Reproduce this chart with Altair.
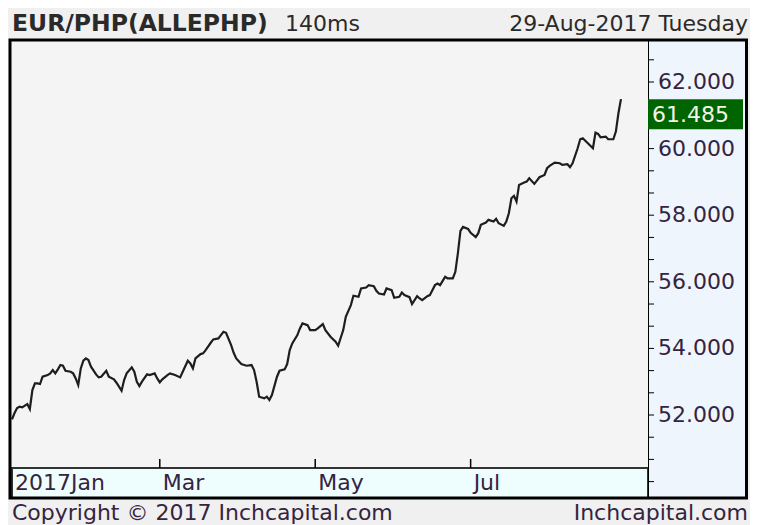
import altair as alt
import pandas as pd

# ---- data ----
dates = [
    "2017-01-02", "2017-01-03", "2017-01-04", "2017-01-05", "2017-01-06", "2017-01-08", "2017-01-09",
    "2017-01-10", "2017-01-11", "2017-01-12", "2017-01-13", "2017-01-14", "2017-01-16", "2017-01-17",
    "2017-01-18", "2017-01-19", "2017-01-20", "2017-01-21", "2017-01-22", "2017-01-23", "2017-01-25",
    "2017-01-26", "2017-01-27", "2017-01-28", "2017-01-29", "2017-01-30", "2017-01-31",
    "2017-02-01", "2017-02-02", "2017-02-04", "2017-02-05", "2017-02-06", "2017-02-08", "2017-02-09",
    "2017-02-11", "2017-02-12", "2017-02-14", "2017-02-15", "2017-02-16", "2017-02-18", "2017-02-19",
    "2017-02-20", "2017-02-21", "2017-02-22", "2017-02-24", "2017-02-25", "2017-02-27", "2017-02-28",
    "2017-03-01", "2017-03-02", "2017-03-04", "2017-03-05", "2017-03-07", "2017-03-09", "2017-03-10",
    "2017-03-12", "2017-03-13", "2017-03-14", "2017-03-15", "2017-03-17", "2017-03-18", "2017-03-19",
    "2017-03-21", "2017-03-22", "2017-03-24", "2017-03-25", "2017-03-26", "2017-03-27", "2017-03-29",
    "2017-03-30", "2017-03-31",
    "2017-04-02", "2017-04-04", "2017-04-06", "2017-04-07", "2017-04-08", "2017-04-09", "2017-04-11",
    "2017-04-12", "2017-04-13", "2017-04-14", "2017-04-16", "2017-04-17", "2017-04-19", "2017-04-20",
    "2017-04-21", "2017-04-22", "2017-04-24", "2017-04-25", "2017-04-26", "2017-04-28", "2017-04-29",
    "2017-05-01", "2017-05-02", "2017-05-04", "2017-05-05", "2017-05-07", "2017-05-09", "2017-05-10",
    "2017-05-12", "2017-05-13", "2017-05-15", "2017-05-16", "2017-05-18", "2017-05-19", "2017-05-21",
    "2017-05-22", "2017-05-24", "2017-05-25", "2017-05-26", "2017-05-28", "2017-05-29", "2017-05-31",
    "2017-06-01", "2017-06-03", "2017-06-04", "2017-06-05", "2017-06-07", "2017-06-08", "2017-06-10",
    "2017-06-11", "2017-06-12", "2017-06-14", "2017-06-15", "2017-06-17", "2017-06-18", "2017-06-19",
    "2017-06-21", "2017-06-22", "2017-06-24", "2017-06-25", "2017-06-26", "2017-06-27", "2017-06-28",
    "2017-06-30",
    "2017-07-01", "2017-07-03", "2017-07-04", "2017-07-05", "2017-07-07", "2017-07-08", "2017-07-10",
    "2017-07-11", "2017-07-12", "2017-07-14", "2017-07-15", "2017-07-16", "2017-07-17", "2017-07-18",
    "2017-07-19", "2017-07-20", "2017-07-22", "2017-07-23", "2017-07-24", "2017-07-26", "2017-07-27",
    "2017-07-28", "2017-07-30", "2017-07-31",
    "2017-08-01", "2017-08-03", "2017-08-05", "2017-08-06", "2017-08-08", "2017-08-09", "2017-08-10",
    "2017-08-12", "2017-08-13", "2017-08-14", "2017-08-16", "2017-08-18", "2017-08-19", "2017-08-20",
    "2017-08-21", "2017-08-23", "2017-08-24", "2017-08-26", "2017-08-27", "2017-08-28", "2017-08-29",
]
rates = [
    51.87, 52.06, 52.21, 52.25, 52.23, 52.33, 52.18,
    52.75, 52.95, 52.95, 52.93, 53.15, 53.20, 53.25,
    53.35, 53.25, 53.37, 53.50, 53.48, 53.33, 53.30,
    53.25, 53.10, 52.90, 53.40, 53.63, 53.70,
    53.65, 53.45, 53.22, 53.13, 53.15, 53.33, 53.15,
    53.07, 52.97, 52.73, 53.05, 53.25, 53.43, 53.30,
    53.00, 52.87, 53.00, 53.22, 53.20, 53.25, 53.10,
    52.98, 53.07, 53.20, 53.25, 53.20, 53.13, 53.30,
    53.63, 53.55, 53.40, 53.70, 53.83, 53.85, 53.95,
    54.17, 54.27, 54.30, 54.40, 54.50, 54.47, 54.10,
    53.87, 53.70,
    53.53, 53.48, 53.50, 53.35, 53.00, 52.55, 52.50,
    52.55, 52.45, 52.60, 53.15, 53.33, 53.37, 53.53,
    53.95, 54.15, 54.40, 54.60, 54.75, 54.70, 54.55,
    54.55, 54.60, 54.73, 54.55, 54.35, 54.20, 54.08,
    54.55, 54.95, 55.30, 55.58, 55.55, 55.80, 55.83,
    55.90, 55.87, 55.73, 55.65, 55.62, 55.80, 55.75,
    55.52, 55.55, 55.68, 55.60, 55.54, 55.33, 55.57,
    55.50, 55.45, 55.57, 55.60, 55.90, 55.95, 55.90,
    56.15, 56.10, 56.10, 56.30, 56.86, 57.53, 57.65,
    57.59,
    57.47, 57.34, 57.46, 57.71, 57.78, 57.86, 57.81,
    57.89, 57.76, 57.68, 57.81, 58.06, 58.51, 58.58,
    58.41, 58.91, 58.98, 59.01, 59.11, 58.94, 59.04,
    59.14, 59.21, 59.41,
    59.48, 59.58, 59.56, 59.51, 59.53, 59.44, 59.56,
    60.01, 60.28, 60.31, 60.16, 60.01, 60.48, 60.44,
    60.34, 60.36, 60.28, 60.28, 60.51, 61.06, 61.485,
]

tick_dates = ["2017-01-02", "2017-03-01", "2017-05-01", "2017-07-01"]
tick_labels = ["2017Jan", "Mar", "May", "Jul"]
y_ticks = [round(50 + k * 2 / 3, 3) for k in range(20)]
y_labels = [52, 54, 56, 58, 60, 62]

title_left = "EUR/PHP(ALLEPHP)"
title_mid = "140ms"
title_right = "29-Aug-2017 Tuesday"
foot_left = "Copyright \u00a9 2017 Inchcapital.com"
foot_right = "Inchcapital.com"

# ---- tables ----
df = pd.DataFrame({"date": dates, "rate": rates})
last = df.tail(1)
ticks_df = pd.DataFrame({"date": tick_dates, "label": tick_labels})
ytick_df = pd.DataFrame({"v": y_ticks})
ylab_df = pd.DataFrame({"v": y_labels})
one = pd.DataFrame({"k": [0]})

W, H = 636, 456
FONT = "DejaVu Sans"
TXT = "#2a2a2a"
LAB = "#35243f"
GREY = "#f0f0f0"

xscale = alt.Scale(
    type="utc",
    domain=[
        alt.DateTime(year=2017, month=1, date=2, utc=True),
        alt.DateTime(year=2017, month=9, date=8, hours=14, minutes=38, utc=True),
    ],
)
yscale = alt.Scale(domain=[49.538, 63.231], nice=False, zero=False)


def strip(x0, x1, y0, y1, color):
    return alt.Chart(one).mark_rect(color=color).encode(
        x=alt.value(x0), x2=alt.value(x1), y=alt.value(y0), y2=alt.value(y1)
    )


def label(text, x, y, align, size, weight="normal", color=TXT):
    return alt.Chart(one).mark_text(
        align=align, baseline="alphabetic", font=FONT, fontSize=size,
        fontWeight=weight, color=color,
    ).encode(x=alt.value(x), y=alt.value(y), text=alt.value(text))


header = strip(-4, 738, -33, -1, GREY)
footer = strip(-4, 738, 457, 490, GREY)
left_strip = strip(-4, -2, -33, 490, GREY)
right_strip = strip(735, 738, -33, 490, GREY)

band = alt.Chart(one).mark_rect(fill="#eefeff", stroke="#333333", strokeWidth=2).encode(
    x=alt.value(0), x2=alt.value(W), y=alt.value(427), y2=alt.value(457)
)

line = alt.Chart(df).mark_line(color="#1e1e1e", strokeWidth=2.2).encode(
    x=alt.X("date:T", scale=xscale, axis=None),
    y=alt.Y("rate:Q", scale=yscale, axis=None),
)

# right-hand value axis, drawn through the shared y scale
y_domain = alt.Chart(one).mark_rule(color="black", strokeWidth=1).encode(
    x=alt.value(636.5), y=alt.value(0), y2=alt.value(H)
)
y_tickmarks = alt.Chart(ytick_df).mark_rule(color="black", strokeWidth=1).encode(
    y=alt.Y("v:Q", axis=None), x=alt.value(636), x2=alt.value(642)
)
y_ticklabels = alt.Chart(ylab_df).mark_text(
    align="left", baseline="middle", font=FONT, fontSize=22, color=LAB
).encode(y=alt.Y("v:Q", axis=None), x=alt.value(646), text=alt.Text("v:Q", format=".3f"))

# bottom time axis, drawn through the shared x scale
xticks = alt.Chart(ticks_df).transform_filter("datum.label != '2017Jan'").mark_rule(
    color="black", strokeWidth=1.5
).encode(x=alt.X("date:T", axis=None), y=alt.value(418), y2=alt.value(427))

xlabels = alt.Chart(ticks_df).mark_text(
    align="left", baseline="alphabetic", dx=3, font=FONT, fontSize=22, color=LAB
).encode(x=alt.X("date:T", axis=None), y=alt.value(449), text="label:N")

box = alt.Chart(last).mark_rect(color="#006400", y2Offset=30).encode(
    x=alt.value(636), x2=alt.value(731), y=alt.Y("rate:Q", axis=None), y2="rate"
)
box_text = alt.Chart(last).mark_text(
    align="left", baseline="middle", dy=16, font=FONT, fontSize=22, color="#f4f4e6"
).encode(x=alt.value(640), y=alt.Y("rate:Q", axis=None), text=alt.Text("rate:Q", format=".3f"))

frame = alt.Chart(one).mark_rect(fillOpacity=0, stroke="black", strokeWidth=3).encode(
    x=alt.value(-2), x2=alt.value(734.5), y=alt.value(-1), y2=alt.value(457)
)

texts = [
    label(title_left, 0, -10, "left", 23.5, "bold"),
    label(title_mid, 273, -10, "left", 22),
    label(title_right, 736, -10, "right", 22),
    label(foot_left, 0, 479, "left", 22, color=LAB),
    label(foot_right, 736, 479, "right", 22, color=LAB),
]

chart = alt.layer(
    line, header, footer, left_strip, right_strip, band,
    y_domain, y_tickmarks, y_ticklabels, xticks, xlabels,
    box, box_text, frame, *texts,
).properties(
    width=W, height=H,
    padding={"left": 4, "top": 33, "right": 102, "bottom": 30},
    autosize=alt.AutoSizeParams(type="none"),
    background="#eef5fd",
).configure_view(fill="#f4f4f4", strokeWidth=0)

chart.save("out.html", embed_options={"renderer": "svg", "actions": False})
